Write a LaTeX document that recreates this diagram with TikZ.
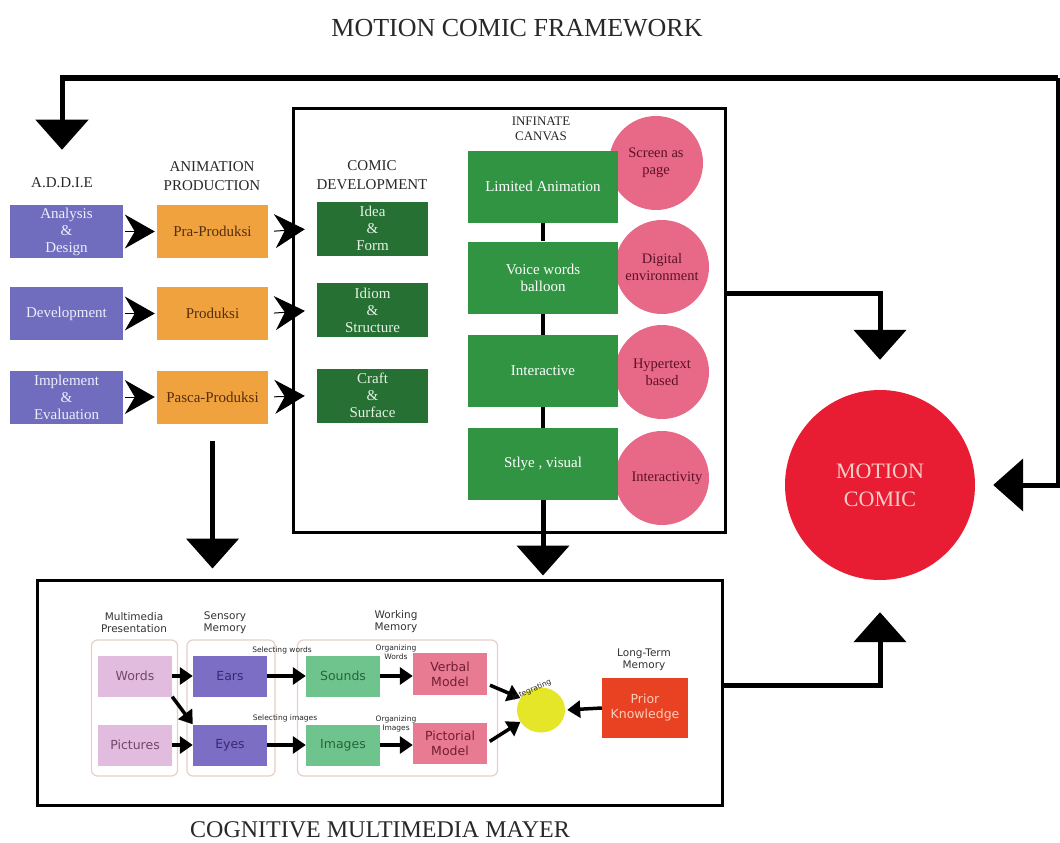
\documentclass[tikz,border=0pt]{standalone}
\usepackage{fontspec}
\setmainfont{Liberation Serif}
\newfontfamily\mayerfont{DejaVu Sans}
\usetikzlibrary{arrows.meta,shapes.geometric}
\definecolor{addieblue}{RGB}{112,108,190}
\definecolor{addietext}{RGB}{238,238,250}
\definecolor{prodorange}{RGB}{240,162,62}
\definecolor{prodtext}{RGB}{85,45,15}
\definecolor{devgreen}{RGB}{38,112,52}
\definecolor{devtext}{RGB}{228,242,228}
\definecolor{canvasgreen}{RGB}{48,148,66}
\definecolor{circpink}{RGB}{232,104,135}
\definecolor{circtext}{RGB}{90,18,38}
\definecolor{motionred}{RGB}{232,28,50}
\definecolor{motiontext}{RGB}{246,204,200}
\definecolor{headtext}{RGB}{40,40,40}
\definecolor{groupline}{RGB}{228,208,198}
\definecolor{wordspink}{RGB}{226,188,222}
\definecolor{wordstext}{RGB}{112,70,112}
\definecolor{earspurple}{RGB}{124,110,196}
\definecolor{earstext}{RGB}{58,40,112}
\definecolor{soundgreen}{RGB}{110,196,140}
\definecolor{soundtext}{RGB}{38,100,60}
\definecolor{modelpink}{RGB}{232,122,146}
\definecolor{modeltext}{RGB}{112,30,52}
\definecolor{integyellow}{RGB}{230,230,40}
\definecolor{priorred}{RGB}{232,66,34}
\definecolor{priortext}{RGB}{252,206,186}
\begin{document}
\begin{tikzpicture}[x=1pt,y=1pt]
\tikzstyle{every node}+=[inner sep=0pt,align=center]
\tikzstyle{addiebox}=[fill=addieblue,text=addietext,minimum width=113pt,minimum height=53pt,font=\fontsize{15}{17}\selectfont]
\tikzstyle{prodbox}=[addiebox,fill=prodorange,text=prodtext,minimum width=111pt]
\tikzstyle{devbox}=[addiebox,fill=devgreen,text=devtext,minimum width=111pt,minimum height=54pt]
\tikzstyle{canvasbox}=[addiebox,fill=canvasgreen,text=white,minimum width=150pt,minimum height=72pt]
\tikzstyle{pinkcirc}=[circle,fill=circpink,text=circtext,minimum size=94pt,font=\fontsize{14.5}{17}\selectfont]
\tikzstyle{heading}=[font=\fontsize{15}{19}\selectfont,text=headtext]
\tikzstyle{framebox}=[draw=black,line width=3pt]
\tikzstyle{bigflow}=[line width=5pt,-{Triangle[width=52pt,length=30pt]}]
\tikzstyle{kite}=[line width=1pt,-{Stealth[length=30pt,width=34pt,inset=10pt]}]
\tikzstyle{mbox}=[minimum width=74pt,minimum height=41pt,font=\mayerfont\fontsize{12.5}{15}\selectfont]
\tikzstyle{group}=[draw=groupline,line width=1.2pt,rounded corners=6pt]
\tikzstyle{mhead}=[font=\mayerfont\fontsize{10.5}{12}\selectfont,text=black!80]
\tikzstyle{tinylbl}=[font=\mayerfont\fontsize{7.5}{9}\selectfont,text=black!85]
\tikzstyle{smallflow}=[line width=3.5pt,-{Triangle[width=17pt,length=13pt]}]
\useasboundingbox (0,0) rectangle (1060,-843);
\node[font=\fontsize{26}{30}\selectfont,text=headtext] (title) at (517,-28) {MOTION COMIC FRAMEWORK};
\node[font=\fontsize{24}{28}\selectfont,text=headtext] (subtitle) at (380,-830) {COGNITIVE MULTIMEDIA MAYER};
\node[framebox,minimum width=432pt,minimum height=424pt] (canvasframe) at (509,-320) {};
\node[framebox,minimum width=685pt,minimum height=225pt] (mayerframe) at (379.5,-692.5) {};
\node[heading] (addiehead) at (62,-183) {A.D.D.I.E};
\node[heading] (prodhead) at (212,-176) {ANIMATION\\PRODUCTION};
\node[heading] (devhead) at (372,-175) {COMIC\\DEVELOPMENT};
\node[heading,font=\fontsize{13}{15}\selectfont] (canvashead) at (541,-129) {INFINATE\\CANVAS};
\node[addiebox] (analysis) at (66.5,-231.5) {Analysis\\\&\\Design};
\node[addiebox] (development) at (66.5,-313.5) {Development};
\node[addiebox] (implement) at (66.5,-397) {Implement\\\&\\Evaluation};
\node[prodbox] (pra) at (212.5,-231.5) {Pra-Produksi};
\node[prodbox] (produksi) at (212.5,-313.5) {Produksi};
\node[prodbox] (pasca) at (212.5,-397) {Pasca-Produksi};
\node[devbox] (idea) at (372.5,-228.5) {Idea\\\&\\Form};
\node[devbox] (idiom) at (372.5,-310) {Idiom\\\&\\Structure};
\node[devbox] (craft) at (372.5,-395.5) {Craft\\\&\\Surface};
\node[pinkcirc] (screen) at (656,-163) {Screen as\\page};
\node[pinkcirc] (digital) at (662,-267) {Digital\\environment};
\node[pinkcirc] (hypertext) at (662,-372) {Hypertext\\based};
\node[pinkcirc] (interactivity) at (662,-478) {\hspace*{10pt}Interactivity};
\node[canvasbox] (limited) at (543,-186.5) {Limited Animation};
\node[canvasbox] (voice) at (543,-277.5) {Voice words\\balloon};
\node[canvasbox] (interactive) at (543,-371) {Interactive};
\node[canvasbox] (style) at (543,-464) {Stlye , visual};
\draw[line width=4pt] (limited.south) -- (voice.north);
\draw[line width=4pt] (voice.south) -- (interactive.north);
\draw[line width=4pt] (interactive.south) -- (style.north);
\node[circle,fill=motionred,text=motiontext,minimum size=190pt,font=\fontsize{22}{28}\selectfont] (motion) at (880,-485) {MOTION\\COMIC};
\draw[kite,shorten <=2pt,shorten >=2pt] (analysis.east) -- (pra.west);
\draw[kite,shorten <=2pt,shorten >=2pt] (development.east) -- (produksi.west);
\draw[kite,shorten <=2pt,shorten >=2pt] (implement.east) -- (pasca.west);
\draw[kite,shorten <=6pt,shorten >=12pt] (pra.east) -- (idea.west);
\draw[kite,shorten <=6pt,shorten >=12pt] (produksi.east) -- (idiom.west);
\draw[kite,shorten <=6pt,shorten >=12pt] (pasca.east) -- (craft.west);
\coordinate (loopstart) at (1058,-78);
\coordinate (canvasout) at (725,-293);
\coordinate (mayerout) at (722,-685);
\draw[bigflow,shorten >=28pt] (loopstart) -| (addiehead.north);
\draw[bigflow,shorten >=18pt] (loopstart) |- (motion.east);
\draw[bigflow,shorten >=30pt] (canvasout) -| (motion.north);
\draw[bigflow,shorten >=32pt] (mayerout) -| (motion.south);
\draw[bigflow,shorten <=17pt,shorten >=10pt] (pasca.south) -- (pasca.south |- mayerframe.north);
\draw[bigflow,shorten >=3pt] (style.south) -- (style.south |- mayerframe.north);
\node[group,minimum width=86pt,minimum height=136pt] (presgroup) at (134.5,-708) {};
\node[group,minimum width=88pt,minimum height=136pt] (sensgroup) at (231,-708) {};
\node[group,minimum width=200pt,minimum height=136pt] (workgroup) at (397.5,-708) {};
\node[mhead] (preshead) at (134,-623) {Multimedia\\Presentation};
\node[mhead] (senshead) at (225,-623) {Sensory\\Memory};
\node[mhead] (workhead) at (396,-622) {Working\\Memory};
\node[mhead] (longhead) at (644,-660) {Long-Term\\Memory};
\node[mbox,fill=wordspink,text=wordstext] (words) at (135,-676) {Words};
\node[mbox,fill=wordspink,text=wordstext] (pictures) at (135,-745) {Pictures};
\node[mbox,fill=earspurple,text=earstext] (ears) at (230,-676) {Ears};
\node[mbox,fill=earspurple,text=earstext] (eyes) at (230,-745) {Eyes};
\node[mbox,fill=soundgreen,text=soundtext] (sounds) at (343,-676) {Sounds};
\node[mbox,fill=soundgreen,text=soundtext] (images) at (343,-745) {Images};
\node[mbox,fill=modelpink,text=modeltext,minimum width=74pt,minimum height=42pt] (verbal) at (450,-674) {Verbal\\Model};
\node[mbox,fill=modelpink,text=modeltext,minimum width=74pt,minimum height=41pt] (pictorial) at (450,-743) {Pictorial\\Model};
\node[ellipse,fill=integyellow,minimum width=48pt,minimum height=45pt] (integ) at (541,-710) {};
\node[mbox,fill=priorred,text=priortext,minimum width=86pt,minimum height=60pt] (prior) at (645,-708) {Prior\\Knowledge};
\node[tinylbl] (selwords) at (282,-650) {Selecting words};
\node[tinylbl] (selimages) at (285,-718) {Selecting images};
\node[tinylbl] (orgwords) at (396,-652) {Organizing\\Words};
\node[tinylbl] (orgimages) at (396,-724) {Organizing\\Images};
\draw[smallflow] (words.east) -- (ears.west);
\draw[smallflow] (words.south east) -- (eyes.north west);
\draw[smallflow] (pictures.east) -- (eyes.west);
\draw[smallflow] (ears.east) -- (sounds.west);
\draw[smallflow] (eyes.east) -- (images.west);
\draw[smallflow] (sounds.east) -- (verbal.west |- sounds.east);
\draw[smallflow] (images.east) -- (pictorial.west |- images.east);
\draw[smallflow,shorten <=3pt] ([yshift=-10pt]verbal.east) -- (integ.150);
\draw[smallflow,shorten <=3pt] (pictorial.east) -- (integ.210);
\draw[smallflow,shorten >=2pt] (prior.west) -- (integ.east);
\node[tinylbl,rotate=24] (integlbl) at (532,-690) {Integrating};
\end{tikzpicture}
\end{document}
